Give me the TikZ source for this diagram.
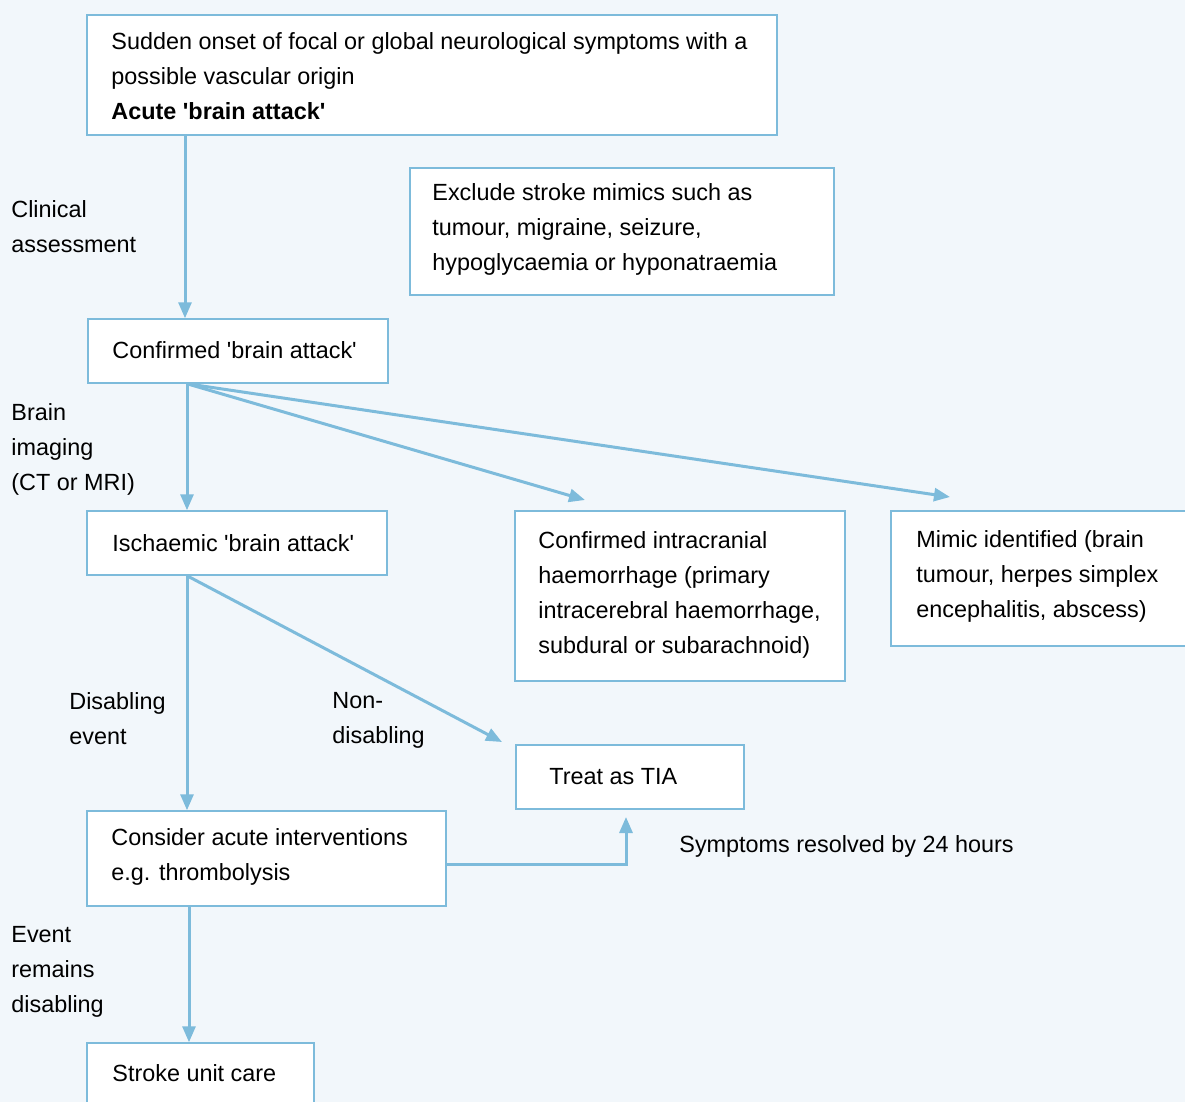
\documentclass[tikz,border=0pt]{standalone}
\usepackage{fontspec}
\setmainfont{Liberation Sans}
\usetikzlibrary{arrows.meta}
\definecolor{flowblue}{HTML}{7DBBDB}
\definecolor{flowback}{HTML}{F2F7FB}

\begin{document}
\begin{tikzpicture}
[x=0.5pt, y=-0.5pt,
  boxdecorate/.style={shape=rectangle,draw=flowblue,fill=white,line width=0.75pt,inner sep=0pt},%
  textdecorate/.style={anchor=west,align=left,inner sep=0pt,font=\fontsize{11.7}{17.5}\selectfont},%
  linedecorate/.style={draw=flowblue,line width=1.5pt,-{Triangle[length=8pt,width=6.5pt]}}]
%% background
\fill[flowback] (0,0) rectangle (1185,1102);
\useasboundingbox (0,0) rectangle (1185,1102);
\clip (0,0) rectangle (1185,1102);
%% boxes
\foreach \nodename/\x/\y/\w/\h in {top/432/75/690/120, exclude/622/231.5/424/127,
  confirmed/238/351/300/64, ischaemic/237/543/300/64, haemorrhage/680/596/330/170,
  mimic/1045.5/578.5/309/135, tia/630/777/228/64, consider/266.5/858.5/359/95,
  stroke/200.5/1079/227/72}
{
  \node (\nodename) at (\x,\y) [boxdecorate, minimum width=\w*0.5pt, minimum height=\h*0.5pt] {};
}
%% box texts
\foreach \nodename/\x/\y/\content in {
  top/111/76/{Sudden onset of focal or global neurological symptoms with a\\possible vascular origin\\\textbf{Acute \textquotesingle brain attack\textquotesingle}},
  exclude/432/229/{Exclude stroke mimics such as\\tumour, migraine, seizure,\\hypoglycaemia or hyponatraemia},
  confirmed/112/350/{Confirmed \textquotesingle brain attack\textquotesingle},
  ischaemic/112/543/{Ischaemic \textquotesingle brain attack\textquotesingle},
  haemorrhage/538/595/{Confirmed intracranial\\haemorrhage (primary\\intracerebral haemorrhage,\\subdural or subarachnoid)},
  mimic/916/576/{Mimic identified (brain\\tumour, herpes simplex\\encephalitis, abscess)},
  tia/549/777/{Treat as TIA},
  consider/111/857/{Consider acute interventions\\e.g. thrombolysis},
  stroke/112/1073/{Stroke unit care}}
{
  \node (\nodename-text) at (\x,\y) [textdecorate] {\content};
}
%% side labels
\foreach \nodename/\x/\y/\content in {
  clinical/11/227/{Clinical\\assessment},
  imaging/11/449/{Brain\\imaging\\(CT or MRI)},
  disabling/69/719/{Disabling\\event},
  nondisabling/332/720/{Non-\\disabling},
  resolved/679/846/{Symptoms resolved by 24 hours},
  remains/11/972/{Event\\remains\\disabling}}
{
  \node (\nodename) at (\x,\y) [textdecorate] {\content};
}
%% free arrow ends
\coordinate (haemorrhagetip) at (585,500);
\coordinate (mimictip) at (950,497);
\coordinate (tiatip) at (502,742);
\coordinate (tiabottom) at (626,817);
%% edges or lines
\draw[linedecorate] (top.south -| 185,0) -- (confirmed.north -| 185,0);
\draw[linedecorate] (confirmed.south -| 187,0) -- (ischaemic.north -| 187,0);
\draw[linedecorate] (confirmed.south -| 187,0) -- (haemorrhagetip);
\draw[linedecorate] (confirmed.south -| 187,0) -- (mimictip);
\draw[linedecorate] (ischaemic.south -| 187,0) -- (consider.north -| 187,0);
\draw[linedecorate] (ischaemic.south -| 187,0) -- (tiatip);
\draw[linedecorate] (consider.east |- 0,864) -| (tiabottom);
\draw[linedecorate] (consider.south -| 189,0) -- (stroke.north -| 189,0);
\end{tikzpicture}
\end{document}
